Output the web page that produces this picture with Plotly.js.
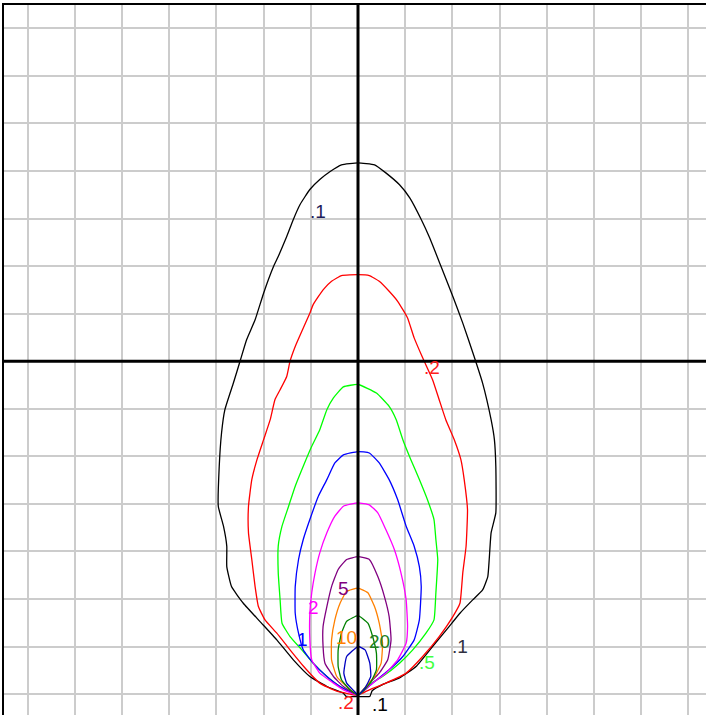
<!DOCTYPE html>
<html>
<head>
<meta charset="utf-8">
<script src="https://cdn.plot.ly/plotly-3.0.1.min.js"></script>
<style>html,body{margin:0;padding:0;overflow:hidden;background:#fff;}</style>
</head>
<body>
<div id="chart" style="width:706px;height:715px;"></div>
<script>
// Contour levels (labels) and colours
var levels = [".1", ".2", ".5", "1", "2", "5", "10", "20", "50"];
var colors = ["#000000", "#ff0000", "#00ff00", "#0000ff", "#ff00ff", "#800080", "#ff8000", "#008000", "#0000c0"];

// Isopleth .1 (black)
var c01x = [0.25,0.00,-0.25,-0.31,-0.66,-1.02,-1.37,-1.72,-2.08,-2.43,-2.68,-2.78,-2.78,-2.85,-2.96,-2.94,-2.89,-2.82,-2.64,-2.49,-2.36,-2.18,-2.00,-1.79,-1.69,-1.51,-1.37,-1.23,-1.02,-0.81,-0.59,-0.35,0.00,0.35,0.59,0.88,1.10,1.34,1.52,1.76,2.01,2.22,2.46,2.64,2.82,2.89,2.92,2.92,2.82,2.78,2.75,2.64,2.43,2.16,1.93,1.58,1.23,0.88,0.52,0.30,0.25];
var c01y = [-7.05,-7.05,-7.05,-6.98,-6.84,-6.63,-6.28,-5.86,-5.47,-5.09,-4.74,-4.32,-3.89,-3.47,-3.05,-2.21,-1.50,-1.02,-0.46,0.03,0.45,0.87,1.43,1.99,2.20,2.62,2.98,3.29,3.61,3.82,3.99,4.13,4.17,4.13,3.96,3.71,3.43,2.98,2.59,1.99,1.36,0.80,0.10,-0.46,-1.23,-1.65,-2.21,-3.19,-3.61,-4.17,-4.53,-4.81,-5.02,-5.30,-5.58,-6.00,-6.42,-6.66,-6.80,-6.93,-7.05];
// Isopleth .2 (red)
var c02x = [0.00,-0.45,-0.81,-1.15,-1.44,-1.72,-1.97,-2.11,-2.18,-2.25,-2.32,-2.32,-2.25,-2.14,-2.00,-1.86,-1.76,-1.65,-1.51,-1.44,-1.33,-1.19,-1.02,-0.95,-0.74,-0.56,-0.35,0.00,0.24,0.45,0.66,0.84,1.05,1.19,1.37,1.58,1.72,1.86,2.04,2.18,2.25,2.32,2.29,2.22,2.16,2.01,1.72,1.37,1.02,0.59,0.24,0.00];
var c02y = [-7.02,-6.94,-6.77,-6.42,-6.07,-5.72,-5.44,-5.16,-4.74,-4.17,-3.61,-3.05,-2.49,-2.07,-1.65,-1.23,-0.81,-0.60,-0.32,0.00,0.31,0.63,1.01,1.19,1.50,1.68,1.80,1.82,1.80,1.68,1.47,1.26,0.91,0.49,0.07,-0.39,-0.81,-1.23,-1.65,-2.07,-2.49,-3.12,-3.89,-4.45,-5.09,-5.37,-5.79,-6.21,-6.56,-6.77,-6.91,-7.02];
// Isopleth .5 (green)
var c05x = [0.00,-0.38,-0.66,-0.95,-1.19,-1.44,-1.61,-1.65,-1.69,-1.69,-1.61,-1.47,-1.33,-1.16,-0.98,-0.81,-0.66,-0.52,-0.31,0.00,0.39,0.66,0.81,0.95,1.12,1.30,1.47,1.61,1.65,1.69,1.65,1.61,1.44,1.16,0.88,0.52,0.17,0.00];
var c05y = [-7.02,-6.84,-6.63,-6.35,-6.07,-5.79,-5.51,-5.02,-4.45,-3.89,-3.47,-3.05,-2.63,-2.21,-1.79,-1.44,-1.02,-0.77,-0.54,-0.49,-0.67,-0.95,-1.23,-1.65,-2.07,-2.49,-2.91,-3.33,-3.75,-4.17,-4.87,-5.44,-5.72,-6.07,-6.35,-6.63,-6.84,-7.02];
// Isopleth 1 (blue)
var c1x = [0.00,-0.38,-0.66,-0.95,-1.16,-1.26,-1.33,-1.33,-1.26,-1.16,-1.02,-0.84,-0.66,-0.49,-0.31,0.00,0.24,0.45,0.66,0.84,1.02,1.19,1.30,1.34,1.30,1.19,0.95,0.66,0.31,0.00];
var c1y = [-7.02,-6.84,-6.63,-6.35,-6.07,-5.72,-5.30,-4.74,-4.17,-3.75,-3.33,-2.84,-2.49,-2.14,-1.97,-1.90,-1.93,-2.14,-2.49,-2.91,-3.47,-3.89,-4.32,-4.74,-5.44,-5.86,-6.21,-6.49,-6.77,-7.02];
// Isopleth 2 (magenta)
var c2x = [0.00,-0.31,-0.52,-0.81,-0.98,-1.02,-1.02,-0.98,-0.91,-0.81,-0.66,-0.49,-0.31,0.00,0.24,0.42,0.59,0.77,0.91,1.02,1.05,1.02,0.84,0.59,0.31,0.00];
var c2y = [-7.02,-6.91,-6.77,-6.56,-6.28,-5.86,-5.30,-4.87,-4.45,-4.03,-3.61,-3.26,-3.05,-2.98,-3.02,-3.19,-3.54,-3.96,-4.45,-5.02,-5.58,-5.93,-6.28,-6.56,-6.77,-7.02];
// Isopleth 5 (purple)
var c5x = [0.00,-0.31,-0.52,-0.70,-0.74,-0.74,-0.66,-0.56,-0.42,-0.24,0.00,0.24,0.42,0.56,0.66,0.70,0.63,0.45,0.24,0.00];
var c5y = [-7.02,-6.84,-6.63,-6.35,-6.00,-5.58,-5.16,-4.74,-4.38,-4.17,-4.11,-4.17,-4.53,-4.95,-5.37,-5.86,-6.28,-6.56,-6.77,-7.02];
// Isopleth 10 (orange)
var c10x = [0.00,-0.24,-0.45,-0.56,-0.56,-0.49,-0.38,-0.24,0.00,0.21,0.35,0.45,0.52,0.49,0.35,0.17,0.00];
var c10y = [-7.02,-6.84,-6.63,-6.28,-5.86,-5.44,-5.09,-4.84,-4.77,-4.87,-5.16,-5.51,-5.93,-6.35,-6.63,-6.84,-7.02];
// Isopleth 20 (dark green)
var c20x = [0.00,-0.17,-0.35,-0.42,-0.42,-0.35,-0.24,0.00,0.21,0.31,0.39,0.39,0.28,0.14,0.00];
var c20y = [-7.02,-6.91,-6.70,-6.42,-6.07,-5.72,-5.47,-5.35,-5.51,-5.79,-6.14,-6.49,-6.73,-6.91,-7.02];
// Isopleth 50 (dark blue, innermost)
var c50x = [0.00,-0.08,-0.24,-0.30,-0.24,0.00,0.15,0.25,0.27,0.15,0.00];
var c50y = [-7.02,-6.94,-6.77,-6.56,-6.21,-6.00,-6.07,-6.35,-6.63,-6.87,-7.02];

// Contour labels
var labelText  = [".1", ".2", ".1", ".5", "1", "2", "5", "10", "20", ".2", ".1"];
var labelX     = [-0.85, 1.57, 2.16, 1.46, -1.17, -0.95, -0.30, -0.24, 0.45, -0.25, 0.47];
var labelY     = [3.14, -0.14, -6.00, -6.34, -5.86, -5.18, -4.78, -5.82, -5.89, -7.17, -7.22];
var labelColor = ["#1c1c5a", "#ff2020", "#303040", "#40ff40", "#0000ff", "#ff00ff", "#800080", "#ff8000", "#208020", "#ff2020", "#000000"];

var xs = [c01x, c02x, c05x, c1x, c2x, c5x, c10x, c20x, c50x];
var ys = [c01y, c02y, c05y, c1y, c2y, c5y, c10y, c20y, c50y];

var traces = xs.map(function (x, i) {
  return {
    type: "scatter", mode: "lines", x: x, y: ys[i], name: levels[i],
    line: {color: colors[i], width: 1.3, shape: "spline", smoothing: 0.4}, hoverinfo: "skip"
  };
});

var annotations = labelText.map(function (t, i) {
  return {
    x: labelX[i], y: labelY[i], xref: "x", yref: "y", text: t, showarrow: false,
    font: {family: "Liberation Sans, Arial, sans-serif", size: 19, color: labelColor[i]},
    xanchor: "center", yanchor: "middle"
  };
});

var layout = {
  width: 706, height: 715,
  margin: {l: 4, r: 0, t: 5, b: 0, pad: 0},
  paper_bgcolor: "#ffffff", plot_bgcolor: "#ffffff",
  showlegend: false,
  xaxis: {
    range: [-7.5, 7.373], dtick: 1, tick0: 0, showticklabels: false, ticks: "",
    showgrid: true, gridcolor: "#cccccc", gridwidth: 2,
    zeroline: false, showline: true, side: "top", linecolor: "#000000", linewidth: 2,
    fixedrange: true
  },
  yaxis: {
    range: [-7.44, 7.49], dtick: 1, tick0: 0, showticklabels: false, ticks: "",
    showgrid: true, gridcolor: "#cccccc", gridwidth: 2,
    zeroline: false, showline: true, side: "left", linecolor: "#000000", linewidth: 2,
    fixedrange: true
  },
  shapes: [
    {type: "line", xref: "x", yref: "paper", x0: 0, x1: 0, y0: 0, y1: 1, layer: "above",
     line: {color: "#000000", width: 3}},
    {type: "line", xref: "paper", yref: "y", x0: 0, x1: 1, y0: 0, y1: 0, layer: "above",
     line: {color: "#000000", width: 3}}
  ],
  annotations: annotations
};

Plotly.newPlot("chart", traces, layout, {displayModeBar: false, staticPlot: true});
</script>
</body>
</html>
